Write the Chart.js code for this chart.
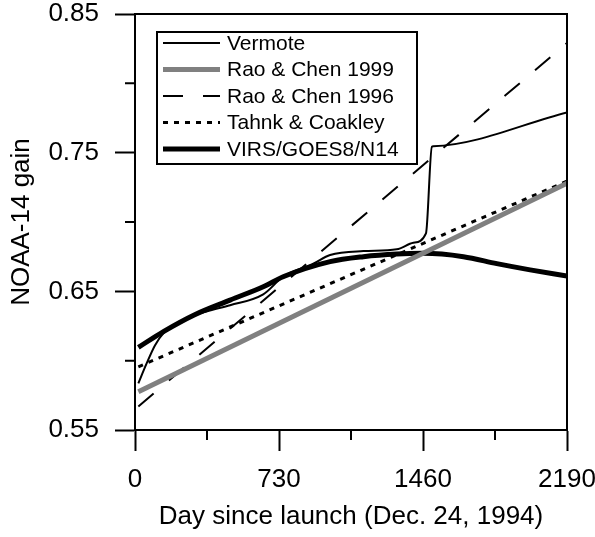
<!DOCTYPE html>
<html>
<head>
<meta charset="utf-8">
<script src="https://cdn.jsdelivr.net/npm/chart.js@4"></script>
<style>
  html, body { margin: 0; padding: 0; background: #fff; }
  canvas { display: block; }
</style>
</head>
<body>
<canvas id="gainChart" width="595" height="537"></canvas>
<script>
// NOAA-14 gain vs days since launch
const xTicks = [0, 730, 1460, 2190];
const xMinorTicks = [365, 1095, 1825];
const yTicks = [0.55, 0.65, 0.75, 0.85];
const yMinorTicks = [0.6, 0.7, 0.8];

const vermoteDays = [17, 59, 101, 144, 250, 362, 482, 650, 751, 904, 989, 1158, 1327, 1411, 1475, 1505, 1512, 2190];
const vermoteGain = [0.5837, 0.598, 0.611, 0.6197, 0.6295, 0.6355, 0.640, 0.6478, 0.6605, 0.670, 0.6762, 0.679, 0.6803, 0.685, 0.6918, 0.7543, 0.7546, 0.779];

const rao99Days = [17, 2190];
const rao99Gain = [0.5776, 0.728];

const rao96Days = [17, 2190];
const rao96Gain = [0.567, 0.829];

const tahnkDays = [17, 2190];
const tahnkGain = [0.5956, 0.7295];

const virsDays = [17, 144, 300, 482, 650, 751, 989, 1158, 1327, 1460, 1665, 1834, 2003, 2190];
const virsGain = [0.6096, 0.621, 0.633, 0.6437, 0.6533, 0.6605, 0.6714, 0.675, 0.6769, 0.6774, 0.675, 0.670, 0.6655, 0.661];

const FONT = "'Liberation Sans', Arial, sans-serif";
const AXIS_SIZE = 26;
const LEGEND_SIZE = 21;

function pairs(xs, ys) {
    return xs.map(function(x, i) { return { x: x, y: ys[i] }; });
}

// keep tick labels from pushing the plot area around
function noOverflow(axis) {
    axis.paddingLeft = 0;
    axis.paddingRight = 0;
    axis.paddingTop = 0;
    axis.paddingBottom = 0;
}

// frame, minor ticks and the boxed legend
const extrasPlugin = {
    id: 'extras',
    afterDraw: function(chart) {
        const ctx = chart.ctx;
        const area = chart.chartArea;
        const xs = chart.scales.x;
        const ys = chart.scales.y;
        ctx.save();
        ctx.strokeStyle = '#000';
        ctx.lineWidth = 2;
        ctx.setLineDash([]);
        ctx.strokeRect(area.left, area.top, area.right - area.left, area.bottom - area.top);

        ctx.beginPath();
        xMinorTicks.forEach(function(v) {
            const px = xs.getPixelForValue(v);
            ctx.moveTo(px, area.bottom);
            ctx.lineTo(px, area.bottom + 10);
        });
        yMinorTicks.forEach(function(v) {
            const py = ys.getPixelForValue(v);
            ctx.moveTo(area.left - 10, py);
            ctx.lineTo(area.left, py);
        });
        ctx.stroke();

        // legend
        const box = { left: 157, top: 32, width: 260, height: 132 };
        ctx.fillStyle = '#fff';
        ctx.fillRect(box.left, box.top, box.width, box.height);
        ctx.strokeRect(box.left, box.top, box.width, box.height);
        ctx.font = LEGEND_SIZE + 'px ' + FONT;
        ctx.textBaseline = 'middle';
        ctx.textAlign = 'left';
        chart.data.datasets.forEach(function(ds, i) {
            const y = box.top + 11 + i * 26.5;
            ctx.beginPath();
            ctx.strokeStyle = ds.borderColor;
            ctx.lineWidth = ds.borderWidth;
            ctx.setLineDash(ds.borderDash || []);
            ctx.moveTo(box.left + 6, y);
            ctx.lineTo(box.left + 63, y);
            ctx.stroke();
            ctx.setLineDash([]);
            ctx.fillStyle = '#000';
            ctx.fillText(ds.label, box.left + 70, y + 1);
        });
        ctx.restore();
    }
};

new Chart(document.getElementById('gainChart').getContext('2d'), {
    type: 'line',
    data: {
        datasets: [
            {
                label: 'Vermote',
                data: pairs(vermoteDays, vermoteGain),
                borderColor: '#000',
                borderWidth: 2,
                cubicInterpolationMode: 'monotone',
                pointRadius: 0
            },
            {
                label: 'Rao & Chen 1999',
                data: pairs(rao99Days, rao99Gain),
                borderColor: '#808080',
                borderWidth: 5,
                pointRadius: 0
            },
            {
                label: 'Rao & Chen 1996',
                data: pairs(rao96Days, rao96Gain),
                borderColor: '#000',
                borderWidth: 2,
                borderDash: [20, 20],
                pointRadius: 0
            },
            {
                label: 'Tahnk & Coakley',
                data: pairs(tahnkDays, tahnkGain),
                borderColor: '#000',
                borderWidth: 3,
                borderDash: [5, 6],
                pointRadius: 0
            },
            {
                label: 'VIRS/GOES8/N14',
                data: pairs(virsDays, virsGain),
                borderColor: '#000',
                borderWidth: 5,
                cubicInterpolationMode: 'monotone',
                pointRadius: 0
            }
        ]
    },
    options: {
        responsive: false,
        animation: false,
        devicePixelRatio: 1,
        layout: { padding: { top: 14, right: 28, left: 0, bottom: 0 } },
        plugins: {
            legend: { display: false },
            tooltip: { enabled: false }
        },
        scales: {
            x: {
                type: 'linear',
                min: 0,
                max: 2190,
                afterFit: function(axis) { axis.height = 107; noOverflow(axis); },
                afterBuildTicks: function(axis) {
                    axis.ticks = xTicks.map(function(v) { return { value: v }; });
                },
                border: { color: '#000', width: 2 },
                grid: { drawOnChartArea: false, color: '#000', tickLength: 21, tickWidth: 2 },
                ticks: {
                    color: '#000',
                    padding: 13,
                    font: { family: FONT, size: AXIS_SIZE },
                    maxRotation: 0,
                    callback: function(v) { return String(v); }
                },
                title: {
                    display: true,
                    text: 'Day since launch (Dec. 24, 1994)',
                    color: '#000',
                    font: { family: FONT, size: AXIS_SIZE },
                    padding: { top: 0, bottom: 5 }
                }
            },
            y: {
                type: 'linear',
                min: 0.55,
                max: 0.85,
                afterFit: function(axis) { axis.width = 135; noOverflow(axis); },
                afterBuildTicks: function(axis) {
                    axis.ticks = yTicks.map(function(v) { return { value: v }; });
                },
                border: { color: '#000', width: 2 },
                grid: { drawOnChartArea: false, color: '#000', tickLength: 20, tickWidth: 2 },
                ticks: {
                    color: '#000',
                    padding: 16,
                    font: { family: FONT, size: AXIS_SIZE },
                    callback: function(v) { return v.toFixed(2); }
                },
                title: {
                    display: true,
                    text: 'NOAA-14 gain',
                    color: '#000',
                    font: { family: FONT, size: AXIS_SIZE },
                    padding: { top: 6, bottom: 0 }
                }
            }
        }
    },
    plugins: [extrasPlugin]
});
</script>
</body>
</html>
